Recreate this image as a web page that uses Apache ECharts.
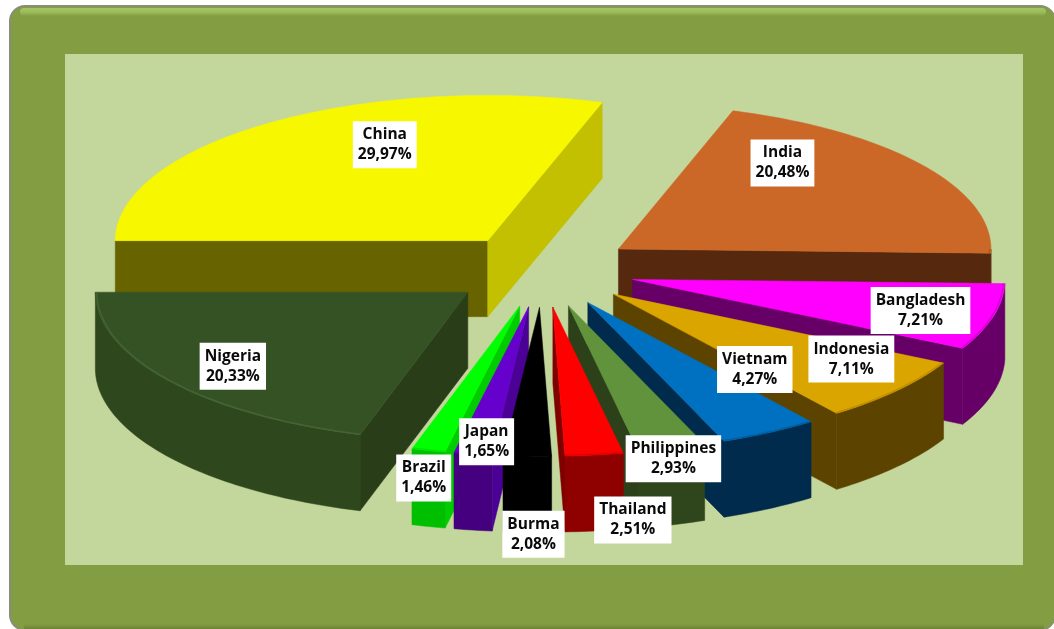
<!DOCTYPE html>
<html>
<head>
<meta charset="utf-8">
<style>html,body{margin:0;padding:0;background:#fff}#chart{width:1054px;height:629px}</style>
<script src="https://cdn.jsdelivr.net/npm/echarts@6/dist/echarts.min.js"></script>
</head>
<body>
<div id="chart"></div>
<script>
// Clockwise from the first slice.
const categories = ['China','India','Bangladesh','Indonesia','Vietnam','Philippines','Thailand','Burma','Japan','Brazil','Nigeria'];
const shares = [29.97,20.48,7.21,7.11,4.27,2.93,2.51,2.08,1.65,1.46,20.33];

const faceColors = ['#f7f700','#cb6828','#ff00ff','#dba500','#0070c0','#60933c','#ff0000','#000000','#6600cc','#00ff00','#355224'];
const wallColors = ['#676400','#56290f','#660066','#5c4400','#002b4d','#2f451b','#8f0000','#000000','#44007f','#00bf00','#2e471c'];
const edgeColors = ['#c2c000','#56290f','#660066','#5c4400','#002b4d','#2c4019','#800000','#000000','#4b0096','#00cc00','#2a3d19'];
const rimColors  = ['#f7f700','#a85520','#d000d0','#b88a00','#005a9c','#527f32','#d80000','#000000','#5800b0','#00e000','#46693a'];

// Back-to-front paint order, as indexes into categories.
const paintOrder = [0,1,2,3,10,4,5,9,8,6,7];
// Label centres relative to each slice's inner corner.
const labelOffsets = [[-103,-96],[164,-86],[288,31],[238,65],[167,67],[105,153],[80,213],[-6,227],[-42,135],[-96,172],[-235,74]];

// Tilted pie geometry.
const pie = {cx:542.5, cy:270, radius:372.5, explode:93, squashBack:0.39, squashFront:0.4, depth:76, firstAngle:270};

const total = shares.reduce((a,b)=>a+b,0);
const startAngles = [];
shares.reduce((acc,v,i)=>{ startAngles[i]=acc%360; return acc+v/total*360; }, pie.firstAngle);

const rad = d => d*Math.PI/180;
function sliceFrame(i){
  const a0 = startAngles[i], a1 = a0 + shares[i]/total*360, mid = (a0+a1)/2;
  const ox = pie.explode*Math.sin(rad(mid)), oy = pie.explode*Math.cos(rad(mid));
  const project = (angle,r,drop) => {
    const q = oy + r*Math.cos(rad(angle));
    return [pie.cx + ox + r*Math.sin(rad(angle)),
            pie.cy - q*(q>0?pie.squashBack:pie.squashFront) + (drop||0)];
  };
  return {a0,a1,project};
}
function arcPoints(project,from,to,r,drop){
  const n = Math.max(2,Math.ceil(Math.abs(to-from)));
  const pts = [];
  for(let k=0;k<=n;k++) pts.push(project(from+(to-from)*k/n,r,drop));
  return pts;
}

function renderSlice(params,api){
  const i = api.value(1);
  const {a0,a1,project} = sliceFrame(i);
  const apex = project(0,0), apexLow = project(0,0,pie.depth);
  const kids = [];
  const poly = (points,fill) => kids.push({type:'polygon',shape:{points},style:{fill,stroke:fill,lineWidth:0.5}});
  const radialWall = angle => {
    const p = project(angle,pie.radius), q = project(angle,pie.radius,pie.depth);
    return [apex,p,q,apexLow];
  };
  // A cut face shows when it turns towards the viewer.
  const s0 = Math.sin(rad(a0)), s1 = Math.sin(rad(a1));
  if(s0 < 0) poly(radialWall(a0), (a0===270)? wallColors[i] : edgeColors[i]);
  if(s1 > 0) poly(radialWall(a1), edgeColors[i]);
  // Outer rim, only over the front half of the ellipse.
  const from = Math.max(a0,90), to = Math.min(a1,270);
  if(to > from){
    const top = arcPoints(project,from,to,pie.radius,0);
    const low = arcPoints(project,to,from,pie.radius,pie.depth);
    poly(top.concat(low), wallColors[i]);
  }
  // Top face.
  poly([apex].concat(arcPoints(project,a0,a1,pie.radius,0)), faceColors[i]);
  // Soft bevel along the front rim.
  if(to > from){
    kids.push({type:'polyline',shape:{points:arcPoints(project,from,to,pie.radius-1.5,0)},
      style:{fill:null,stroke:rimColors[i],lineWidth:1.5,opacity:0.8}});
  }
  return {type:'group',children:kids};
}

function renderLabel(params,api){
  const i = api.value(1);
  const apex = sliceFrame(i).project(0,0);
  const off = labelOffsets[i];
  const pct = api.value(0).toFixed(2).replace('.',',')+'%';
  return {type:'text',x:apex[0]+off[0],y:apex[1]+off[1],
    style:{text:categories[i]+'\n'+pct,fill:'#0a0a0a',font:'bold 15.5px "Open Sans"',
      align:'center',verticalAlign:'middle',lineHeight:20,
      backgroundColor:'#ffffff',padding:[3,5,4,5]}};
}

const seriesData = paintOrder.map(i=>[shares[i],i]);
const chart = echarts.init(document.getElementById('chart'),null,{renderer:'canvas'});
chart.setOption({
  animation:false,
  backgroundColor:'#ffffff',
  graphic:[
    {type:'rect',silent:true,z:0,shape:{x:9,y:5,width:1047,height:626,r:16},style:{fill:'#898d78'}},
    {type:'rect',silent:true,z:0,shape:{x:11,y:7,width:1044,height:622,r:14},style:{fill:'#839e42'}},
    {type:'rect',silent:true,z:0,shape:{x:20,y:8,width:1026,height:8,r:4},
      style:{fill:{type:'linear',x:0,y:0,x2:0,y2:1,colorStops:[{offset:0,color:'#a4c563'},{offset:0.5,color:'#9dbd5c'},{offset:1,color:'#839e42'}]}}},
    {type:'rect',silent:true,z:0,shape:{x:24,y:624,width:1020,height:5},
      style:{fill:{type:'linear',x:0,y:0,x2:0,y2:1,colorStops:[{offset:0,color:'#839e42'},{offset:1,color:'#6c8236'}]}}},
    {type:'rect',silent:true,z:0,shape:{x:65,y:54,width:958,height:511},style:{fill:'#c3d69b'}}
  ],
  series:[
    {type:'custom',coordinateSystem:'none',silent:true,z:2,renderItem:renderSlice,data:seriesData},
    {type:'custom',coordinateSystem:'none',silent:true,z:3,renderItem:renderLabel,data:seriesData}
  ]
});
</script>
</body>
</html>
